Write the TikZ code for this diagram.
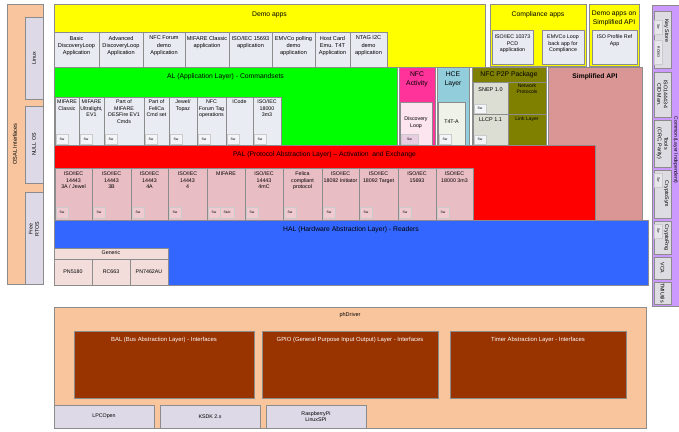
\documentclass[tikz,border=0pt]{standalone}
\usepackage{fontspec}
\setmainfont{Liberation Sans}
\definecolor{bordc}{HTML}{8C8C8C}
\definecolor{osal}{HTML}{F8C59E}
\definecolor{lav}{HTML}{DDD9E6}
\definecolor{yel}{HTML}{FFFF00}
\definecolor{appbox}{HTML}{E8EBF2}
\definecolor{grn}{HTML}{00FF00}
\definecolor{albox}{HTML}{E9ECF2}
\definecolor{swc}{HTML}{F4F5F8}
\definecolor{mag}{HTML}{FF3399}
\definecolor{dlbox}{HTML}{FDE5F0}
\definecolor{dlsw}{HTML}{E8CCE0}
\definecolor{hce}{HTML}{92CDDC}
\definecolor{t4t}{HTML}{EEF2E8}
\definecolor{olv}{HTML}{808000}
\definecolor{p2pbox}{HTML}{DCDED3}
\definecolor{sapi}{HTML}{D99694}
\definecolor{palred}{HTML}{FF0000}
\definecolor{palbox}{HTML}{E9BDC4}
\definecolor{palsw}{HTML}{EFCBD1}
\definecolor{halblue}{HTML}{3366FF}
\definecolor{generic}{HTML}{F2DDDB}
\definecolor{phd}{HTML}{F9C59C}
\definecolor{brn}{HTML}{993300}
\definecolor{purp}{HTML}{CC99FF}
\definecolor{cbox}{HTML}{DCDCE2}
\tikzset{
  blk/.style={draw=bordc, line width=0.5pt, inner sep=0pt, outer sep=0pt},
  lbl/.style={font=\fontsize{5.3}{6.4}\selectfont, align=center, inner sep=0pt, outer sep=0pt},
  applbl/.style={font=\fontsize{5.6}{7.3}\selectfont, align=center, inner sep=0pt, outer sep=0pt},
  ttl/.style={font=\fontsize{6.8}{9}\selectfont, align=center, inner sep=0pt, outer sep=0pt},
  tinylbl/.style={font=\fontsize{3.4}{4}\selectfont, inner sep=0pt, outer sep=0pt},
  swb/.style={draw=bordc!45, line width=0.3pt, fill=swc, font=\fontsize{3.4}{4}\selectfont},
}
\newcommand{\bx}[6][]{\node[blk,anchor=north west,minimum width=#4pt,minimum height=#5pt,#1] (#2) at (#3) {#6};}
\begin{document}
\begin{tikzpicture}[x=1pt,y=-1pt]
\useasboundingbox (0,0) rectangle (679,431);
\fill[white] (0,0) rectangle (679,431);
\clip (0,0) rectangle (679,431);

% ---------- OSAL ----------
\bx[fill=osal]{osal}{7,4}{36}{280}{}
\node[lbl,rotate=90,font=\fontsize{5.6}{6.5}\selectfont] (osalt) at (15,144) {OSAL Interfaces};
\bx[fill=lav]{linux}{25,17}{18}{82}{}
\node[lbl,rotate=90] (linuxt) at (linux.center) {Linux};
\bx[fill=lav]{nullos}{25,106}{18}{77}{}
\node[lbl,rotate=90] (nullost) at (nullos.center) {NULL OS};
\bx[fill=lav]{rtos}{25,192}{18}{92}{}
\node[lbl,rotate=90] (rtost) at (34,229) {Free\\RTOS};

% ---------- Demo apps ----------
\bx[fill=yel]{demo}{54,4}{431}{63}{}
\node[ttl,anchor=north] (demot) at ([yshift=-8pt]demo.north) {Demo apps};
\bx[fill=appbox]{a1}{54,32}{45}{35}{}
\node[applbl,anchor=north] (a1t) at ([yshift=-4pt]a1.north) {Basic\\DiscoveryLoop\\Application};
\bx[fill=appbox]{a2}{99,32}{44}{35}{}
\node[applbl,anchor=north] (a2t) at ([yshift=-4pt]a2.north) {Advanced\\DiscoveryLoop\\Application};
\bx[fill=appbox]{a3}{143,32}{42}{35}{}
\node[applbl,anchor=north] (a3t) at ([yshift=-4pt]a3.north) {NFC Forum\\demo\\Application};
\bx[fill=appbox]{a4}{185,32}{44}{35}{}
\node[applbl,anchor=north] (a4t) at ([yshift=-4pt]a4.north) {MIFARE Classic\\application};
\bx[fill=appbox]{a5}{229,32}{43}{35}{}
\node[applbl,anchor=north] (a5t) at ([yshift=-4pt]a5.north) {ISO/IEC 15693\\application};
\bx[fill=appbox]{a6}{272,32}{43}{35}{}
\node[applbl,anchor=north] (a6t) at ([yshift=-4pt]a6.north) {EMVCo polling\\demo\\application};
\bx[fill=appbox]{a7}{315,32}{35}{35}{}
\node[applbl,anchor=north] (a7t) at ([yshift=-4pt]a7.north) {Host Card\\Emu. T4T\\Application};
\bx[fill=appbox]{a8}{350,32}{37}{35}{}
\node[applbl,anchor=north] (a8t) at ([yshift=-4pt]a8.north) {NTAG I2C\\demo\\application};

% ---------- Compliance apps ----------
\bx[fill=yel]{comp}{490,4}{96}{62}{}
\node[ttl,anchor=north] (compt) at ([yshift=-8pt]comp.north) {Compliance apps};
\bx[fill=appbox]{c1}{492,30}{41}{34}{}
\node[lbl,anchor=north] (c1t) at ([yshift=-5pt]c1.north) {ISO/IEC 10373\\PCD\\application};
\bx[fill=appbox]{c2}{542,30}{42}{34}{}
\node[lbl,anchor=north] (c2t) at ([yshift=-5pt]c2.north) {EMVCo Loop\\back app for\\Compliance};
\bx[fill=yel]{dsa}{589,4}{50}{62}{}
\node[ttl,anchor=north] (dsat) at ([yshift=-7pt]dsa.north) {Demo apps on\\Simplified API};
\bx[fill=appbox]{d1}{592,30}{45}{34}{}
\node[lbl,anchor=north] (d1t) at ([yshift=-5pt]d1.north) {ISO Profile Ref\\App};

% ---------- AL ----------
\bx[fill=grn]{al}{54,67}{343}{78}{}
\node[ttl,anchor=north] (alt) at ([yshift=-7pt]al.north) {AL (Application Layer) - Commandsets};
\bx[fill=albox]{l1}{55,97}{24}{48}{}
\node[lbl,anchor=north] (l1t) at ([yshift=-3pt]l1.north) {MIFARE\\Classic};
\bx[swb]{l1s}{56,134}{12}{10}{Sw}
\bx[fill=albox]{l2}{79,97}{25}{48}{}
\node[lbl,anchor=north] (l2t) at ([yshift=-3pt]l2.north) {MIFARE\\Ultralight,\\EV1};
\bx[swb]{l2s}{80,134}{12}{10}{Sw}
\bx[fill=albox]{l3}{104,97}{40}{48}{}
\node[lbl,anchor=north] (l3t) at ([yshift=-3pt]l3.north) {Part of\\MIFARE\\DESFire EV1\\Cmds};
\bx[swb]{l3s}{105,134}{12}{10}{Sw}
\bx[fill=albox]{l4}{144,97}{25}{48}{}
\node[lbl,anchor=north] (l4t) at ([yshift=-3pt]l4.north) {Part of\\FeliCa\\Cmd set};
\bx[swb]{l4s}{145,134}{12}{10}{Sw}
\bx[fill=albox]{l5}{169,97}{28}{48}{}
\node[lbl,anchor=north] (l5t) at ([yshift=-3pt]l5.north) {Jewel/\\Topaz};
\bx[swb]{l5s}{170,134}{12}{10}{Sw}
\bx[fill=albox]{l6}{197,97}{29}{48}{}
\node[lbl,anchor=north] (l6t) at ([yshift=-3pt]l6.north) {NFC\\Forum Tag\\operations};
\bx[swb]{l6s}{198,134}{12}{10}{Sw}
\bx[fill=albox]{l7}{226,97}{27}{48}{}
\node[lbl,anchor=north] (l7t) at ([yshift=-3pt]l7.north) {ICode};
\bx[swb]{l7s}{227,134}{12}{10}{Sw}
\bx[fill=albox]{l8}{253,97}{28}{48}{}
\node[lbl,anchor=north] (l8t) at ([yshift=-3pt]l8.north) {ISO/IEC\\18000\\3m3};
\bx[swb]{l8s}{254,134}{12}{10}{Sw}

% ---------- NFC Activity ----------
\bx[fill=mag]{nfca}{399,67}{36}{78}{}
\node[ttl,anchor=north] (nfcat) at ([yshift=-5pt]nfca.north) {NFC\\Activity};
\bx[fill=dlbox]{dl}{400,102}{32}{43}{}
\node[lbl,anchor=north] (dlt) at ([yshift=-15pt]dl.north) {Discovery\\Loop};
\bx[swb,fill=dlsw]{dls}{401,134}{17}{10}{Sw}

% ---------- HCE ----------
\bx[fill=hce]{hce}{437,67}{32}{78}{}
\node[ttl,anchor=north] (hcet) at ([yshift=-5pt]hce.north) {HCE\\Layer};
\bx[fill=t4t]{t4}{438,102}{27}{43}{}
\node[lbl,anchor=north] (t4t) at ([yshift=-18pt]t4.north) {T4T-A};
\bx[swb]{t4s}{439,134}{12}{10}{Sw}

% ---------- NFC P2P ----------
\bx[fill=olv]{p2p}{472,67}{74}{78}{}
\node[ttl,anchor=north] (p2pt) at ([yshift=-5pt]p2p.north) {NFC P2P Package};
\bx[fill=p2pbox]{snep}{473,82}{35}{32}{}
\node[lbl,anchor=north,font=\fontsize{5.5}{6.5}\selectfont] (snept) at ([yshift=-6pt]snep.north) {SNEP 1.0};
\bx[swb]{sneps}{474,104}{12}{9}{Sw}
\bx[fill=p2pbox]{llcp}{473,114}{35}{31}{}
\node[lbl,anchor=north,font=\fontsize{5.5}{6.5}\selectfont] (llcpt) at ([yshift=-4pt]llcp.north) {LLCP 1.1};
\bx[swb]{llcps}{474,135}{12}{9}{Sw}
\draw[bordc,line width=0.5pt] (p2p.west |- snep.north) -- (p2p.east |- snep.north);
\draw[bordc,line width=0.5pt] (snep.south east) -- (p2p.east |- snep.south);
\node[lbl,anchor=north,font=\fontsize{5}{6}\selectfont] (netp) at (527,84) {Network\\Protocols};
\node[lbl,anchor=north,font=\fontsize{5}{6}\selectfont] (linkl) at (527,117) {Link Layer};

% ---------- Simplified API ----------
\bx[fill=sapi]{sapi}{548,67}{94}{153}{}
\node[ttl,anchor=north,font=\bfseries\fontsize{6.7}{8}\selectfont] (sapit) at ([yshift=-7pt]sapi.north) {Simplified API};

% ---------- PAL ----------
\bx[fill=palred]{pal}{54,145}{541}{75}{}
\node[ttl,anchor=north] (palt) at ([yshift=-7pt]pal.north) {PAL (Protocol Abstraction Layer) -- Activation\ \ and Exchange};
\bx[fill=palbox]{p1}{55,168}{37}{52}{}
\node[lbl,anchor=north] (p1t) at ([yshift=-4pt]p1.north) {ISO/IEC\\14443\\3A / Jewel};
\bx[swb,fill=palsw]{p1s}{56,207}{12}{11}{Sw}
\bx[fill=palbox]{p2}{92,168}{39}{52}{}
\node[lbl,anchor=north] (p2t) at ([yshift=-4pt]p2.north) {ISO/IEC\\14443\\3B};
\bx[swb,fill=palsw]{p2s}{93,207}{12}{11}{Sw}
\bx[fill=palbox]{p3}{131,168}{37}{52}{}
\node[lbl,anchor=north] (p3t) at ([yshift=-4pt]p3.north) {ISO/IEC\\14443\\4A};
\bx[swb,fill=palsw]{p3s}{132,207}{12}{11}{Sw}
\bx[fill=palbox]{p4}{168,168}{39}{52}{}
\node[lbl,anchor=north] (p4t) at ([yshift=-4pt]p4.north) {ISO/IEC\\14443\\4};
\bx[swb,fill=palsw]{p4s}{169,207}{12}{11}{Sw}
\bx[fill=palbox]{p5}{207,168}{38}{52}{}
\node[lbl,anchor=north] (p5t) at ([yshift=-4pt]p5.north) {MIFARE};
\bx[swb,fill=palsw]{p5s}{208,207}{12}{11}{Sw}
\bx[swb,fill=palsw]{p5b}{220,207}{14}{11}{Stub}
\bx[fill=palbox]{p6}{245,168}{38}{52}{}
\node[lbl,anchor=north] (p6t) at ([yshift=-4pt]p6.north) {ISO/IEC\\14443\\4mC};
\bx[swb,fill=palsw]{p6s}{246,207}{12}{11}{Sw}
\bx[fill=palbox]{p7}{283,168}{39}{52}{}
\node[lbl,anchor=north] (p7t) at ([yshift=-4pt]p7.north) {Felica\\compliant\\protocol};
\bx[swb,fill=palsw]{p7s}{284,207}{12}{11}{Sw}
\bx[fill=palbox]{p8}{322,168}{37}{52}{}
\node[lbl,anchor=north] (p8t) at ([yshift=-4pt]p8.north) {ISO/IEC\\18092 Initiator};
\bx[swb,fill=palsw]{p8s}{323,207}{12}{11}{Sw}
\bx[fill=palbox]{p9}{359,168}{39}{52}{}
\node[lbl,anchor=north] (p9t) at ([yshift=-4pt]p9.north) {ISO/IEC\\18092 Target};
\bx[swb,fill=palsw]{p9s}{360,207}{12}{11}{Sw}
\bx[fill=palbox]{p10}{398,168}{38}{52}{}
\node[lbl,anchor=north] (p10t) at ([yshift=-4pt]p10.north) {ISO/IEC\\15693};
\bx[swb,fill=palsw]{p10s}{399,207}{12}{11}{Sw}
\bx[fill=palbox]{p11}{436,168}{37}{52}{}
\node[lbl,anchor=north] (p11t) at ([yshift=-4pt]p11.north) {ISO/IEC\\18000 3m3};
\bx[swb,fill=palsw]{p11s}{437,207}{12}{11}{Sw}

% ---------- HAL ----------
\bx[fill=halblue]{hal}{54,220}{594}{65}{}
\node[ttl,anchor=north] (halt) at ([yshift=-7pt]hal.north) {HAL (Hardware Abstraction Layer) - Readers};
\bx[fill=generic]{gen}{54,248}{114}{37}{}
\node[lbl,anchor=north] (gent) at ([yshift=-3pt]gen.north) {Generic};
\bx[fill=generic]{h1}{54,259}{38}{26}{}
\node[lbl] (h1t) at (h1.center) {PN5180};
\bx[fill=generic]{h2}{92,259}{38}{26}{}
\node[lbl] (h2t) at (h2.center) {RC663};
\bx[fill=generic]{h3}{130,259}{38}{26}{}
\node[lbl] (h3t) at (h3.center) {PN7462AU};

% ---------- phDriver ----------
\bx[fill=phd]{phd}{54,307}{592}{121}{}
\node[lbl,anchor=north,font=\fontsize{5.5}{6.5}\selectfont] (phdt) at ([yshift=-6pt]phd.north) {phDriver};
\bx[fill=brn]{bal}{74,331}{180}{67}{}
\node[lbl,anchor=north,text=white,font=\fontsize{5.9}{7}\selectfont] (balt) at ([yshift=-6pt]bal.north) {BAL (Bus Abstraction Layer) - Interfaces};
\bx[fill=brn]{gpio}{262,331}{176}{67}{}
\node[lbl,anchor=north,text=white,font=\fontsize{5.9}{7}\selectfont] (gpiot) at ([yshift=-6pt]gpio.north) {GPIO (General Purpose Input Output) Layer - Interfaces};
\bx[fill=brn]{timer}{450,331}{176}{67}{}
\node[lbl,anchor=north,text=white,font=\fontsize{5.9}{7}\selectfont] (timert) at ([yshift=-6pt]timer.north) {Timer Abstraction Layer - Interfaces};
\bx[fill=lav]{lpc}{54,405}{100}{23}{}
\node[lbl] (lpct) at (lpc.center) {LPCOpen};
\bx[fill=lav]{ksdk}{160,405}{100}{23}{}
\node[lbl] (ksdkt) at (ksdk.center) {KSDK 2.x};
\bx[fill=lav]{rpi}{266,405}{100}{23}{}
\node[lbl] (rpit) at (rpi.center) {RaspberryPi\\LinuxSPI};

% ---------- Common (right column) ----------
\bx[fill=purp]{common}{652,5}{40}{301}{}
\node[lbl,rotate=-90,font=\fontsize{5}{6}\selectfont] (commont) at (675.6,150) {Common (Layer Independent)};
\bx[fill=cbox]{ks}{654,11}{17}{57}{}
\node[lbl,rotate=-90] (kst) at (666.5,31) {Key Store};
\bx[swb,fill=cbox!70!white]{kssw}{654.5,20}{8}{14}{}
\node[tinylbl,rotate=-90] (ksswt) at (kssw.center) {Sw};
\bx[swb,fill=cbox!70!white]{ksrc}{654.5,40}{8}{24}{}
\node[tinylbl,rotate=-90] (ksrct) at (ksrc.center) {RC663};
\bx[fill=cbox]{iso4}{654,72}{17}{45}{}
\node[lbl,rotate=-90] (iso4t) at (iso4.center) {ISO14443-4\\CID Man.};
\bx[fill=cbox]{tools}{654,120}{17}{47}{}
\node[lbl,rotate=-90] (toolst) at (tools.center) {Tools\\(CRC, Parity)};
\bx[fill=cbox]{csym}{654,170}{17}{48}{}
\node[lbl,rotate=-90] (csymt) at (666.5,194) {CryptoSym};
\bx[swb,fill=cbox!70!white]{csymsw}{654.5,173}{8}{14}{}
\node[tinylbl,rotate=-90] (csymswt) at (csymsw.center) {Sw};
\bx[fill=cbox]{crng}{654,221}{17}{33}{}
\node[lbl,rotate=-90] (crngt) at (666.5,237.5) {CryptoRng};
\bx[swb,fill=cbox!70!white]{crngsw}{654.5,224}{8}{14}{}
\node[tinylbl,rotate=-90] (crngswt) at (crngsw.center) {Sw};
\bx[fill=cbox]{vca}{654,257}{17}{22}{}
\node[lbl,rotate=-90] (vcat) at (vca.center) {VCA};
\bx[fill=cbox]{tmi}{654,282}{17}{22}{}
\node[lbl,rotate=-90] (tmit) at (tmi.center) {TMIUtils};
\end{tikzpicture}
\end{document}
